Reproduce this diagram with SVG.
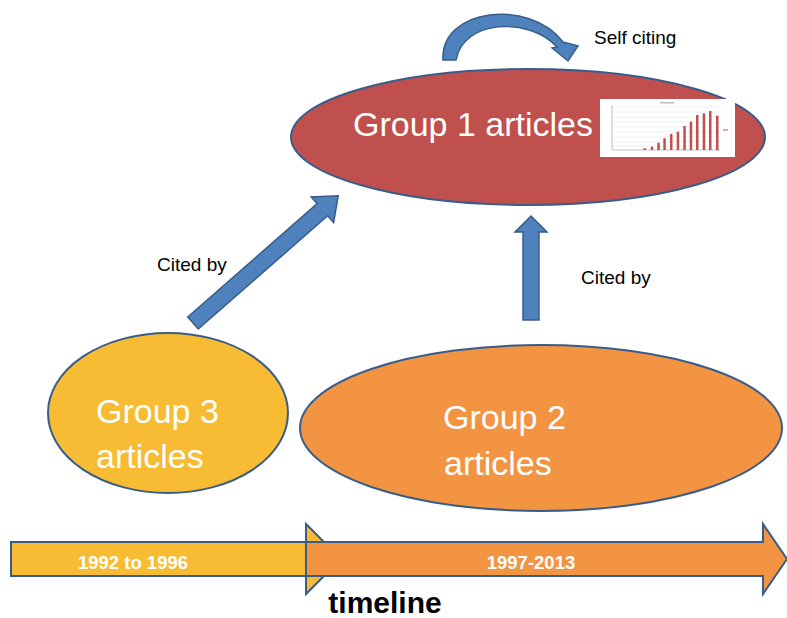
<svg xmlns="http://www.w3.org/2000/svg" width="787" height="618" viewBox="0 0 787 618">
<style>
.lbl{font-family:"Liberation Sans",Arial,sans-serif;fill:#000;font-size:19px}
.big{font-family:"Liberation Sans",Arial,sans-serif;fill:#fff;font-size:34px}
.yr{font-family:"Liberation Sans",Arial,sans-serif;fill:#fff;font-size:18.5px;font-weight:bold}
.arrow{fill:#4F81BD;stroke:#385D8A;stroke-width:1.5}
</style>
<rect width="787" height="618" fill="#fff"/>
<g id="timeline">
  <polygon points="11,542 306,542 306,524 341,559 306,594 306,576 11,576" fill="#F7BC33" stroke="#385D8A" stroke-width="2"/>
  <polygon points="306,542 763,542 763,524 787,559 763,594 763,576 306,576" fill="#F39443" stroke="#385D8A" stroke-width="2"/>
  <line x1="306" y1="542" x2="306" y2="576" stroke="#385D8A" stroke-width="2"/>
  <text class="yr" x="133" y="569" text-anchor="middle">1992 to 1996</text>
  <text class="yr" x="531" y="569" text-anchor="middle">1997-2013</text>
  <text x="385" y="613" text-anchor="middle" font-family="'Liberation Sans',Arial,sans-serif" font-weight="bold" font-size="30">timeline</text>
</g>
<g id="group1">
  <ellipse cx="528" cy="137" rx="237" ry="68" fill="#C0504D" stroke="#385D8A" stroke-width="2"/>
  <text class="big" x="473" y="136" text-anchor="middle">Group 1 articles</text>
  <g id="chart">
    <rect x="600" y="99" width="135" height="58" fill="#fff"/>
    <g stroke="#ddd" stroke-width="0.5">
      <line x1="612" y1="107" x2="720" y2="107"/>
      <line x1="612" y1="112" x2="720" y2="112"/>
      <line x1="612" y1="117" x2="720" y2="117"/>
      <line x1="612" y1="122" x2="720" y2="122"/>
      <line x1="612" y1="127" x2="720" y2="127"/>
      <line x1="612" y1="132" x2="720" y2="132"/>
      <line x1="612" y1="137" x2="720" y2="137"/>
      <line x1="612" y1="142" x2="720" y2="142"/>
      <line x1="612" y1="146" x2="720" y2="146"/>
    </g>
    <line x1="612" y1="150" x2="720" y2="150" stroke="#999" stroke-width="0.6"/>
    <line x1="612" y1="105" x2="612" y2="150" stroke="#999" stroke-width="0.6"/>
    <g fill="#C0504D">
      <rect x="643.5" y="148.3" width="2.5" height="1.7"/>
      <rect x="650.7" y="146.7" width="2.5" height="3.3"/>
      <rect x="657.3" y="142.7" width="2.5" height="7.3"/>
      <rect x="663.3" y="138.3" width="2.5" height="11.7"/>
      <rect x="670" y="134" width="2.5" height="16"/>
      <rect x="676.7" y="131.7" width="2.5" height="18.3"/>
      <rect x="683.3" y="126" width="2.5" height="24"/>
      <rect x="689.7" y="121.7" width="2.5" height="28.3"/>
      <rect x="696" y="115" width="2.5" height="35"/>
      <rect x="702.7" y="113.3" width="2.5" height="36.7"/>
      <rect x="709" y="111" width="2.5" height="39"/>
      <rect x="716" y="115.7" width="2.5" height="34.3"/>
      <rect x="723" y="129.5" width="5" height="1"/>
    </g>
    <rect x="660" y="102" width="14" height="1.5" fill="#bbb"/>
  </g>
</g>
<g id="group3">
  <ellipse cx="168" cy="413" rx="120" ry="80" fill="#F7BC33" stroke="#385D8A" stroke-width="2"/>
  <text class="big" x="96" y="423">Group 3</text>
  <text class="big" x="96" y="468">articles</text>
</g>
<g id="group2">
  <ellipse cx="541" cy="428" rx="241" ry="83" fill="#F39443" stroke="#385D8A" stroke-width="2"/>
  <text class="big" x="443" y="429">Group 2</text>
  <text class="big" x="444" y="475">articles</text>
</g>
<g id="connectors">
  <polygon class="arrow" transform="translate(193,323) rotate(-41.2)" points="0,-8 172,-8 172,-17 193,0 172,17 172,8 0,8"/>
  <polygon class="arrow" points="523,320 523,232 515,232 531,216 547,232 539,232 539,320"/>
  <path class="arrow" d="M443,60 C440,8 530,-2 563,42 L578,46 L568,61 L552,48 L557,47 C528,16 463,20 456,60 Z"/>
  <text class="lbl" x="157" y="271">Cited by</text>
  <text class="lbl" x="581" y="284">Cited by</text>
  <text class="lbl" x="594" y="44">Self citing</text>
</g>
</svg>
